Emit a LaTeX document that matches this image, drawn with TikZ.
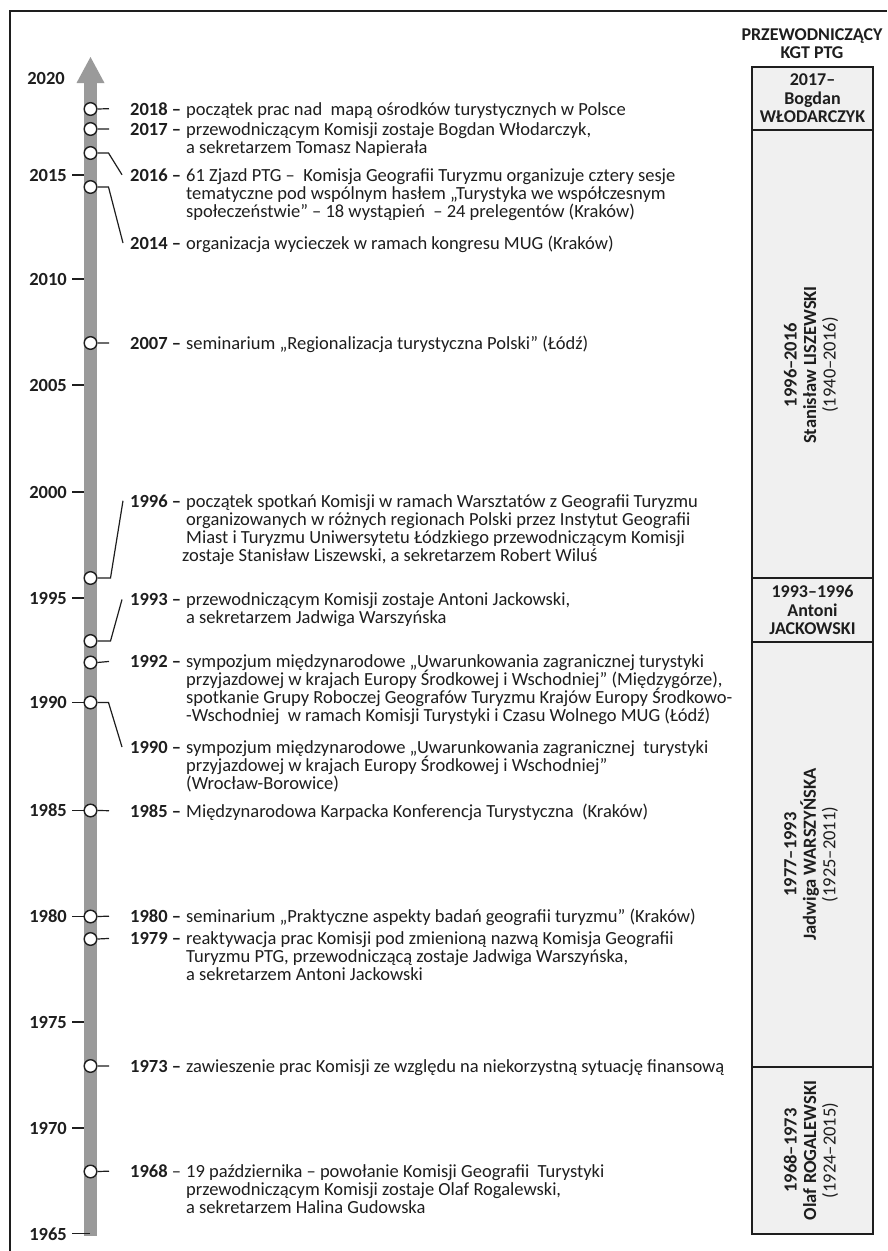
\documentclass[tikz,border=0pt]{standalone}
\usepackage{fontspec}
\setmainfont{Carlito}
\usetikzlibrary{calc}
\definecolor{ink}{HTML}{1E1E1E}
\definecolor{axisgray}{HTML}{9A9A9A}
\definecolor{panelfill}{HTML}{F0F0F0}
\newcommand{\evtext}[1]{\vtop{\baselineskip=18pt\lineskiplimit=-\maxdimen\lineskip=0pt\let\\\cr\halign{##\hfil\cr#1\crcr}}}
\begin{document}
\begin{tikzpicture}[x=1pt,y=-1pt,
 every node/.style={inner sep=0pt, text=ink},
 yr/.style={anchor=base west, font=\fontsize{18.5}{18}\selectfont\bfseries},
 body/.style={anchor=base west, font=\fontsize{18.5}{18}\selectfont},
 axlab/.style={anchor=base east, font=\fontsize{18.5}{18}\selectfont\bfseries},
 tickline/.style={draw=ink, line width=1.2pt},
 ev/.style={circle, draw=ink, fill=white, line width=1.4pt, minimum size=12.6pt},
 lead/.style={draw=ink, line width=1.2pt},
 pbox/.style={draw=ink, fill=panelfill, line width=1.3pt, minimum width=121pt, align=center, font=\fontsize{18}{18.5}\selectfont\bfseries},
 rot/.style={rotate=90, align=center, font=\fontsize{18.5}{19.5}\selectfont}
]
\useasboundingbox (0,0) rectangle (887,1251);
\fill[white] (0,0) rectangle (887,1251);
% frame
\draw[ink, line width=1.3pt] (10,1251) -- (10,11) -- (887,11);

% axis bar and arrow head
\fill[axisgray] (84,83) rectangle (97,1236);
\fill[axisgray] (76.5,83) -- (90.5,57) -- (104.5,83) -- cycle;

% axis labels
\node[axlab] (a2020) at (65,84) {2020};
\foreach \yy/\pp in {2015/175,2010/279,2005/385,2000/492,1995/598,1990/702.5,1985/810.5,1980/916.5,1975/1022,1970/1128}{
  \node[axlab] (a\yy) at (67,\pp+6) {\yy};
  \draw[tickline] ([xshift=5pt]a\yy.east) -- ++(12,0);
}
\node[axlab] (a1965) at (67,1240) {1965};
\draw[tickline] ([xshift=5pt]a1965.east) -- ++(18,0);

% event circles
\node[ev] (c2018) at (90.5,109) {};
\node[ev] (c2017) at (90.5,129) {};
\node[ev] (c2016) at (90.5,153) {};
\node[ev] (c2014) at (90.5,187) {};
\node[ev] (c2007) at (90.5,343) {};
\node[ev] (c1996) at (90.5,578) {};
\node[ev] (c1993) at (90.5,641) {};
\node[ev] (c1992) at (90.5,662.5) {};
\node[ev] (c1990) at (90.5,702.5) {};
\node[ev] (c1985) at (90.5,810.5) {};
\node[ev] (c1980) at (90.5,916.5) {};
\node[ev] (c1979) at (90.5,939) {};
\node[ev] (c1973) at (90.5,1066) {};
\node[ev] (c1968) at (90.5,1171.5) {};

% event texts
\node[yr] (y2018) at (130,115) {2018 –};
\node[body] (b2018) at (186,115) {\evtext{początek prac nad\ \ mapą ośrodków turystycznych w Polsce}};

\node[yr] (y2017) at (130,135) {2017 –};
\node[body] (b2017) at (186,135) {\evtext{przewodniczącym Komisji zostaje Bogdan Włodarczyk,\\a sekretarzem Tomasz Napierała}};

\node[yr] (y2016) at (130,181) {2016 –};
\node[body] (b2016) at (186,181) {\evtext{61 Zjazd PTG –\ \ Komisja Geografii Turyzmu organizuje cztery sesje\\tematyczne pod wspólnym hasłem „Turystyka we współczesnym\\społeczeństwie” – 18 wystąpień\ \ – 24 prelegentów (Kraków)}};

\node[yr] (y2014) at (130,249) {2014 –};
\node[body] (b2014) at (186,249) {\evtext{organizacja wycieczek w ramach kongresu MUG (Kraków)}};

\node[yr] (y2007) at (130,349) {2007 –};
\node[body] (b2007) at (186,349) {\evtext{seminarium „Regionalizacja turystyczna Polski” (Łódź)}};

\node[yr] (y1996) at (130,507) {1996 –};
\node[body] (b1996) at (186,507) {\evtext{początek spotkań Komisji w ramach Warsztatów z Geografii Turyzmu\\organizowanych w różnych regionach Polski przez Instytut Geografii\\Miast i Turyzmu Uniwersytetu Łódzkiego przewodniczącym Komisji\\\hspace*{-4pt}zostaje Stanisław Liszewski, a sekretarzem Robert Wiluś}};

\node[yr] (y1993) at (130,605.5) {1993 –};
\node[body] (b1993) at (186,605.5) {\evtext{przewodniczącym Komisji zostaje Antoni Jackowski,\\a sekretarzem Jadwiga Warszyńska}};

\node[yr] (y1992) at (130,667.5) {1992 –};
\node[body] (b1992) at (186,667.5) {\evtext{sympozjum międzynarodowe „Uwarunkowania zagranicznej turystyki\\przyjazdowej w krajach Europy Środkowej i Wschodniej” (Międzygórze),\\spotkanie Grupy Roboczej Geografów Turyzmu Krajów Europy Środkowo-\\-Wschodniej\ \ w ramach Komisji Turystyki i Czasu Wolnego MUG (Łódź)}};

\node[yr] (y1990) at (130,753) {1990 –};
\node[body] (b1990) at (186,753) {\evtext{sympozjum międzynarodowe „Uwarunkowania zagranicznej\ \ turystyki\\przyjazdowej w krajach Europy Środkowej i Wschodniej”\\(Wrocław-Borowice)}};

\node[yr] (y1985) at (130,817) {1985 –};
\node[body] (b1985) at (186,817) {\evtext{Międzynarodowa Karpacka Konferencja Turystyczna\ \ (Kraków)}};

\node[yr] (y1980) at (130,922.5) {1980 –};
\node[body] (b1980) at (186,922.5) {\evtext{seminarium „Praktyczne aspekty badań geografii turyzmu” (Kraków)}};

\node[yr] (y1979) at (130,944.5) {1979 –};
\node[body] (b1979) at (186,944.5) {\evtext{reaktywacja prac Komisji pod zmienioną nazwą Komisja Geografii\\Turyzmu PTG, przewodniczącą zostaje Jadwiga Warszyńska,\\a sekretarzem Antoni Jackowski}};

\node[yr] (y1973) at (130,1072) {1973 –};
\node[body] (b1973) at (186,1072) {\evtext{zawieszenie prac Komisji ze względu na niekorzystną sytuację finansową}};

\node[yr] (y1968) at (130,1177.5) {1968 \mdseries–};
\node[body] (b1968) at (186,1177.5) {\evtext{19 października – powołanie Komisji Geografii\ \ Turystyki\\przewodniczącym Komisji zostaje Olaf Rogalewski,\\a sekretarzem Halina Gudowska}};

% leaders
\draw[lead] (c2018.east) -- ([xshift=-21pt]y2018.west);
\draw[lead] (c2017.east) -- ([xshift=-21pt]y2017.west);
\draw[lead] (c2016.east) -- ++(11,0) -- ([xshift=-8pt]y2016.west);
\draw[lead] (c2014.east) -- ++(11,0) -- ([xshift=-7pt]y2014.west);
\draw[lead] (c2007.east) -- ([xshift=-21pt]y2007.west);
\draw[lead] (c1996.east) -- ++(13,0) -- ([xshift=-7pt]y1996.west);
\draw[lead] (c1993.east) -- ++(13,0) -- ([xshift=-8pt]y1993.west);
\draw[lead] (c1992.east) -- ([xshift=-21pt]y1992.west);
\draw[lead] (c1990.east) -- ++(11,0) -- ([xshift=-8pt]y1990.west);
\draw[lead] (c1985.east) -- ([xshift=-21pt]y1985.west);
\draw[lead] (c1980.east) -- ([xshift=-21pt]y1980.west);
\draw[lead] (c1979.east) -- ([xshift=-21pt]y1979.west);
\draw[lead] (c1973.east) -- ([xshift=-21pt]y1973.west);
\draw[lead] (c1968.east) -- ([xshift=-21pt]y1968.west);

% right column
\node[align=center, font=\fontsize{18}{18}\selectfont\bfseries] (hdr) at (812,44) {PRZEWODNICZĄCY\\KGT PTG};
\node[pbox, minimum height=63pt] (p2017) at (812.5,98.5) {2017–\\Bogdan\\WŁODARCZYK};
\node[pbox, minimum height=448pt] (p1996) at (812.5,354) {};
\node[pbox, minimum height=64pt] (p1993) at (812.5,610) {1993–1996\\Antoni\\JACKOWSKI};
\node[pbox, minimum height=425pt] (p1977) at (812.5,854.5) {};
\node[pbox, minimum height=167pt] (p1968) at (812.5,1150.5) {};
\node[rot] (r1996) at (811,365) {\textbf{1996–2016}\\\textbf{Stanisław LISZEWSKI}\\(1940–2016)};
\node[rot] (r1977) at (811,854.5) {\textbf{1977–1993}\\\textbf{Jadwiga WARSZYŃSKA}\\(1925–2011)};
\node[rot] (r1968) at (811,1150.5) {\textbf{1968–1973}\\\textbf{Olaf ROGALEWSKI}\\(1924–2015)};
\end{tikzpicture}
\end{document}
